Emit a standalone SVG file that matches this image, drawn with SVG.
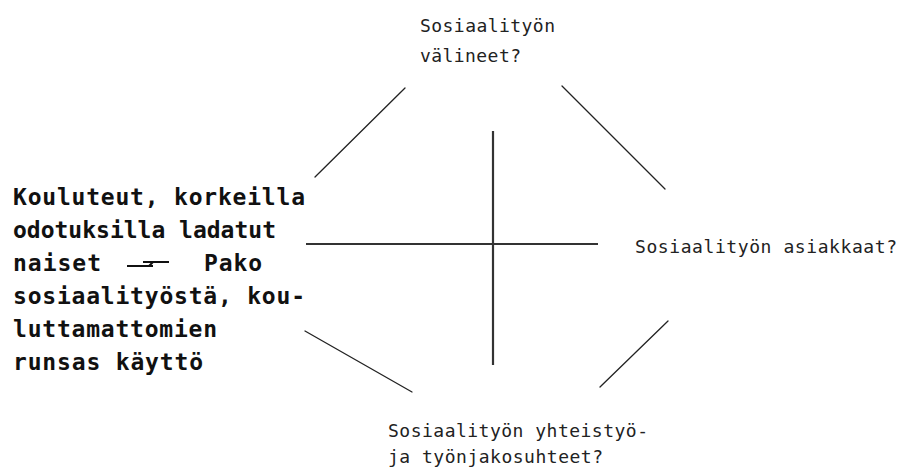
<svg xmlns="http://www.w3.org/2000/svg" width="900" height="469" viewBox="0 0 900 469">
<style>
.lbl{font-family:"DejaVu Sans Mono","Liberation Mono",monospace;font-size:18px;fill:#222;}
.big{font-family:"DejaVu Sans Mono","Liberation Mono",monospace;font-size:23px;font-weight:bold;fill:#111;}
.diag{stroke:#222;stroke-width:1.3;fill:none;stroke-linecap:round;}
.axis{stroke:#333;stroke-width:2.2;fill:none;}
</style>
<rect width="900" height="469" fill="#fff"/>
<g id="connectors">
<line class="axis" x1="493" y1="131" x2="493" y2="365"/>
<line class="axis" x1="306" y1="244" x2="598" y2="244"/>
<line class="diag" x1="315" y1="177" x2="405" y2="88"/>
<line class="diag" x1="562" y1="86" x2="665" y2="189"/>
<line class="diag" x1="305" y1="331" x2="412" y2="392"/>
<line class="diag" x1="600" y1="387" x2="668" y2="321"/>
</g>
<g id="node-top">
<text class="lbl" x="420" y="32" textLength="135" lengthAdjust="spacing">Sosiaalityön</text>
<text class="lbl" x="420" y="62" textLength="101" lengthAdjust="spacing">välineet?</text>
</g>
<g id="node-right">
<text class="lbl" x="635" y="253" textLength="262" lengthAdjust="spacing">Sosiaalityön asiakkaat?</text>
</g>
<g id="node-bottom">
<text class="lbl" x="388" y="437" textLength="260" lengthAdjust="spacing">Sosiaalityön yhteistyö-</text>
<text class="lbl" x="388" y="463" textLength="215" lengthAdjust="spacing">ja työnjakosuhteet?</text>
</g>
<g id="node-left">
<text class="big" x="13" y="205" textLength="292" lengthAdjust="spacing">Kouluteut, korkeilla</text>
<text class="big" x="13" y="238" textLength="263" lengthAdjust="spacing">odotuksilla ladatut</text>
<text class="big" x="13" y="271" textLength="88" lengthAdjust="spacing">naiset</text>
<path d="M127 266 H153 M149 266 L153 262 M143 262 H169" stroke="#111" stroke-width="2" fill="none"/>
<text class="big" x="204" y="271" textLength="58" lengthAdjust="spacing">Pako</text>
<text class="big" x="13" y="304" textLength="292" lengthAdjust="spacing">sosiaalityöstä, kou-</text>
<text class="big" x="13" y="337" textLength="204" lengthAdjust="spacing">luttamattomien</text>
<text class="big" x="13" y="370" textLength="190" lengthAdjust="spacing">runsas käyttö</text>
</g>
</svg>
